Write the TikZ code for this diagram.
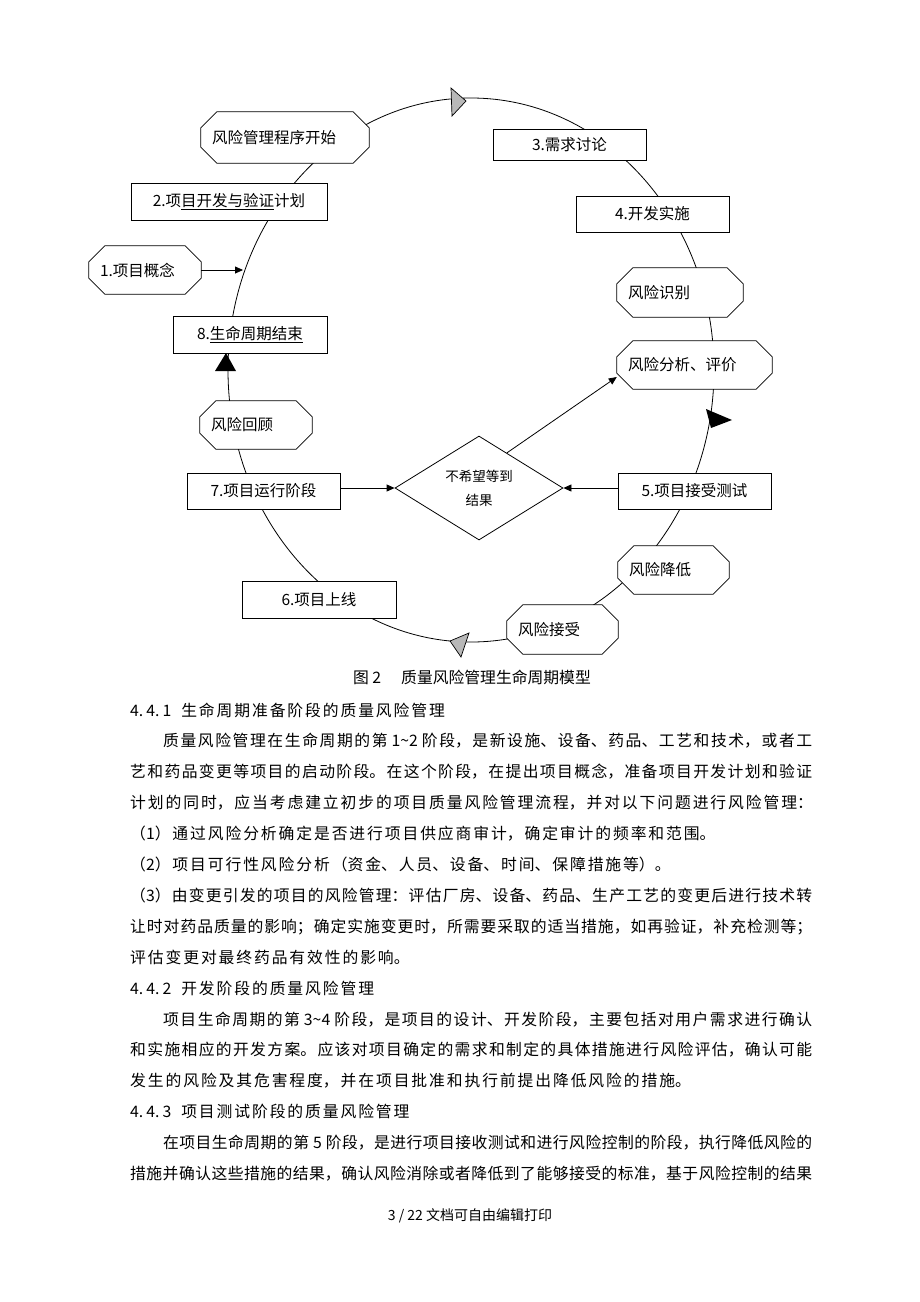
\documentclass[tikz,border=0pt]{standalone}
\usepackage{fontspec}
\setmainfont{Noto Sans CJK SC}
\usetikzlibrary{shapes.geometric,arrows.meta,calc,backgrounds}
\XeTeXlinebreaklocale "zh"
\newcommand\diagfont{\fontsize{15.5}{18}\selectfont\XeTeXlinebreakskip=0pt\relax}
\newcommand\bodyfont{\fontsize{15.8}{18}\selectfont\XeTeXlinebreakskip=1.9pt plus 2pt minus 1.8pt\relax}
% 两端对齐的一行 / 自然宽度的一行
\newcommand\fullline[1]{\parbox[b]{682pt}{\parindent=0pt\parfillskip=0pt\relax #1}}
\newcommand\natline[1]{\parbox[b]{700pt}{\parindent=0pt\relax #1}}
\newcommand\indentpar{\leavevmode\kern33pt\relax}
% 八边形边框（切角 16）
\newcommand\octpath[1]{%
  \draw[fill=white, line width=0.8pt]
    ($(#1.north west)+(16,0)$) -- ($(#1.north east)+(-16,0)$) --
    ($(#1.north east)+(0,16)$) -- ($(#1.south east)+(0,-16)$) --
    ($(#1.south east)+(-16,0)$) -- ($(#1.south west)+(16,0)$) --
    ($(#1.south west)+(0,-16)$) -- ($(#1.north west)+(0,16)$) -- cycle;}
\tikzset{
  stage/.style={draw, fill=white, line width=0.8pt, minimum width=153pt,
    minimum height=36pt, inner sep=0pt, font=\diagfont},
  risk/.style={minimum height=48pt, inner xsep=11pt, inner ysep=0pt,
    text width=#1, align=left, font=\diagfont},
  arr/.style={-{Triangle[length=8pt,width=7pt]}, line width=0.8pt},
  body/.style={anchor=base west, inner sep=0pt, font=\bodyfont},
}
\begin{document}
\begin{tikzpicture}[x=1pt, y=-1pt]
    \useasboundingbox (0,0) rectangle (920,1302);

    % 各阶段方框
    \node[stage, minimum width=196pt, minimum height=37pt] (P2) at (229,201.5) {2.项\underline{目开发与验证}计划};
    \node[stage, minimum height=31pt] (P3) at (569.5,144.5) {3.需求讨论};
    \node[stage] (P4) at (652.5,214) {4.开发实施};
    \node[stage] (P5) at (694.5,491) {5.项目接受测试};
    \node[stage, minimum width=154pt, minimum height=37pt] (P6) at (319,599.5) {6.项目上线};
    \node[stage] (P7) at (263.5,491) {7.项目运行阶段};
    \node[stage, minimum width=154pt, minimum height=37pt] (P8) at (250,334.5) {8.\underline{生命周期结束}};

    % 风险管理各步（八边形）
    \node[risk=146pt, minimum height=51pt] (Rstart) at (285,137.5) {风险管理程序开始};
    \node[risk=90pt] (P1) at (145,270) {1.项目概念};
    \node[risk=104pt, minimum height=49pt] (Rid) at (680,292.5) {风险识别};
    \node[risk=133pt] (Ran) at (694.5,365) {风险分析、评价};
    \node[risk=89pt] (Rred) at (673.5,570) {风险降低};
    \node[risk=89pt, minimum height=49pt] (Racc) at (562.5,629.5) {风险接受};
    \node[risk=90pt] (Rrev) at (256,425) {风险回顾};

    % 判断菱形
    \node[draw, diamond, line width=0.8pt, minimum width=168pt, minimum height=102pt,
      inner sep=0pt, align=center, font=\fontsize{13.5}{24}\selectfont] (D) at (479,488) {不希望等到\\结果};

    % 外圈与八边形放在底层
    \begin{scope}[on background layer]
        \draw[line width=0.8pt] (471,370) ellipse [x radius=243pt, y radius=272pt];
        \foreach \n in {Rstart,P1,Rid,Ran,Rred,Racc,Rrev} {\octpath{\n}}
    \end{scope}

    % 圈上的箭头
    \filldraw[fill=black!28, line width=0.7pt] (451,88) -- (466,101) -- (452,116) -- cycle;
    \filldraw[fill=black!28, line width=0.7pt] (450,641) -- (469,633) -- (461,657) -- cycle;
    \fill (215,371) -- (236,371) -- (226,353) -- cycle;
    \fill (706,409) -- (732,420) -- (711,428) -- cycle;

    % 连线
    \coordinate (c1) at (243,270);
    \draw[arr] (P1.east) -- (c1);
    \draw[arr] (P7.east |- D.west) -- (D.west);
    \draw[arr] (P5.west |- D.east) -- (D.east);
    \draw[arr] ($(D.north)!0.33!(D.east)$) -- ($(Ran.west)+(0,12)$);

    % 图题
    \node[anchor=base, inner sep=0pt, font=\fontsize{15.8}{18}\selectfont] (cap) at (472,683) {图 2\hspace{20pt}质量风险管理生命周期模型};

    % 正文
    \node[body] (t0) at (130,716) {\natline{4.\kern3pt4.\kern3pt1\kern10pt生命周期准备阶段的质量风险管理}};
    \node[body] (t1) at (130,746.9) {\fullline{\indentpar 质量风险管理在生命周期的第\kern4pt 1\textasciitilde2\kern4pt 阶段，是新设施、设备、药品、工艺和技术，或者工}};
    \node[body] (t2) at (130,777.8) {\fullline{艺和药品变更等项目的启动阶段。在这个阶段，在提出项目概念，准备项目开发计划和验证}};
    \node[body] (t3) at (130,808.7) {\natline{计划的同时，应当考虑建立初步的项目质量风险管理流程，并对以下问题进行风险管理：}};
    \node[body] (t4) at (130,839.6) {\natline{（1）通过风险分析确定是否进行项目供应商审计，确定审计的频率和范围。}};
    \node[body] (t5) at (130,870.5) {\natline{（2）项目可行性风险分析（资金、人员、设备、时间、保障措施等）。}};
    \node[body] (t6) at (130,901.4) {\fullline{（3）由变更引发的项目的风险管理：评估厂房、设备、药品、生产工艺的变更后进行技术转}};
    \node[body] (t7) at (130,932.3) {\fullline{让时对药品质量的影响；确定实施变更时，所需要采取的适当措施，如再验证，补充检测等；}};
    \node[body] (t8) at (130,963.2) {\natline{评估变更对最终药品有效性的影响。}};
    \node[body] (t9) at (130,994.1) {\natline{4.\kern3pt4.\kern3pt2\kern10pt开发阶段的质量风险管理}};
    \node[body] (t10) at (130,1025) {\fullline{\indentpar 项目生命周期的第\kern4pt 3\textasciitilde4\kern4pt 阶段，是项目的设计、开发阶段，主要包括对用户需求进行确认}};
    \node[body] (t11) at (130,1055.9) {\fullline{和实施相应的开发方案。应该对项目确定的需求和制定的具体措施进行风险评估，确认可能}};
    \node[body] (t12) at (130,1086.8) {\natline{发生的风险及其危害程度，并在项目批准和执行前提出降低风险的措施。}};
    \node[body] (t13) at (130,1117.7) {\natline{4.\kern3pt4.\kern3pt3\kern10pt项目测试阶段的质量风险管理}};
    \node[body] (t14) at (130,1148.6) {\fullline{\indentpar 在项目生命周期的第\kern4pt 5\kern4pt 阶段，是进行项目接收测试和进行风险控制的阶段，执行降低风险的}};
    \node[body] (t15) at (130,1179.5) {\fullline{措施并确认这些措施的结果，确认风险消除或者降低到了能够接受的标准，基于风险控制的结果}};

    % 页脚
    \node[anchor=base, inner sep=0pt, font=\fontsize{14}{16}\selectfont] (foot) at (470,1220) {3 / 22 文档可自由编辑打印};
\end{tikzpicture}
\end{document}
